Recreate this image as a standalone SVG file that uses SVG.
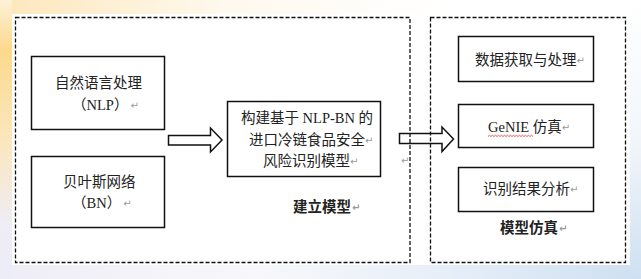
<svg xmlns="http://www.w3.org/2000/svg" width="641" height="279" viewBox="0 0 641 279">
<defs>
<linearGradient id="gLeft" x1="0" y1="0" x2="0" y2="1">
<stop offset="0" stop-color="#fdf1d8"/>
<stop offset="0.18" stop-color="#fcd98c"/>
<stop offset="0.5" stop-color="#fbe7bd"/>
<stop offset="0.8" stop-color="#efedf5"/>
<stop offset="1" stop-color="#ecedf8"/>
</linearGradient>
<linearGradient id="gTop" x1="0" y1="0" x2="1" y2="0">
<stop offset="0" stop-color="#fde7bb"/>
<stop offset="0.35" stop-color="#fef9ee"/>
<stop offset="0.7" stop-color="#ffffff"/>
<stop offset="1" stop-color="#ffffff"/>
</linearGradient>
<linearGradient id="gBottom" x1="0" y1="0" x2="1" y2="0">
<stop offset="0" stop-color="#eeedf7"/>
<stop offset="0.4" stop-color="#f8f8fb"/>
<stop offset="0.7" stop-color="#e6eef8"/>
<stop offset="1" stop-color="#cfe0f2"/>
</linearGradient>
<linearGradient id="gRight" x1="0" y1="0" x2="0" y2="1">
<stop offset="0" stop-color="#ffffff"/>
<stop offset="0.5" stop-color="#f2f6fb"/>
<stop offset="1" stop-color="#cfe0f2"/>
</linearGradient>
<style>
.t{font-family:"Liberation Serif","Noto Sans CJK SC",serif;font-size:14.5px;fill:#222}
.b{font-weight:bold}
.r{font-family:"DejaVu Sans",sans-serif;font-size:10px;fill:#999}
.box{fill:#fff;stroke:#111;stroke-width:1.5}
.dash{fill:none;stroke:#111;stroke-width:1.3;stroke-dasharray:4 2}
.arr{fill:none;stroke:#111;stroke-width:1.5;stroke-linejoin:miter}
</style>
</defs>
<rect x="0" y="0" width="641" height="279" fill="#ffffff"/>
<rect x="0" y="0" width="641" height="14" fill="url(#gTop)"/>
<rect x="0" y="265" width="641" height="14" fill="url(#gBottom)"/>
<rect x="630" y="0" width="11" height="279" fill="url(#gRight)"/>
<rect x="0" y="0" width="12" height="279" fill="url(#gLeft)"/>
<rect x="12" y="14" width="618" height="251" fill="#ffffff"/>

<g id="frame-build">
<rect class="dash" x="15.5" y="17.5" width="394.5" height="245"/>
<text class="t b" x="293" y="212">建立模型<tspan class="r" dx="1" dy="-1">↵</tspan></text>
</g>
<g id="frame-sim">
<rect class="dash" x="430.5" y="17.5" width="195" height="245"/>
<text class="t b" x="500" y="233">模型仿真<tspan class="r" dx="1" dy="-1">↵</tspan></text>
</g>

<g id="node-nlp">
<rect class="box" x="31.5" y="56.5" width="133" height="73"/>
<text class="t" x="55" y="88">自然语言处理</text>
<text class="t" x="72" y="110">（NLP）<tspan class="r" dx="2" dy="-1">↵</tspan></text>
</g>
<g id="node-bn">
<rect class="box" x="31.5" y="156.5" width="133" height="71"/>
<text class="t" x="63" y="187">贝叶斯网络</text>
<text class="t" x="72" y="208">（BN）<tspan class="r" dx="2" dy="-1">↵</tspan></text>
</g>
<g id="node-model">
<rect class="box" x="227.5" y="101.5" width="153" height="75"/>
<text class="t" x="241" y="123">构建基于 NLP-BN 的</text>
<text class="t" x="249" y="145">进口冷链食品安全<tspan class="r" dy="-1">↵</tspan></text>
<text class="t" x="263" y="166">风险识别模型<tspan class="r" dy="-1">↵</tspan></text>
</g>
<text class="r" x="401" y="164">↵</text>

<g id="node-data">
<rect class="box" x="458.5" y="36.5" width="135" height="45"/>
<text class="t" x="475" y="65">数据获取与处理<tspan class="r" dy="-1">↵</tspan></text>
</g>
<g id="node-genie">
<rect class="box" x="458.5" y="104.5" width="135" height="43"/>
<text class="t" x="488" y="132">GeNIE 仿真<tspan class="r" dy="-1">↵</tspan></text>
<path d="M488 136.5 l1.5 -1.2 l1.5 1.2 l1.5 -1.2 l1.5 1.2 l1.5 -1.2 l1.5 1.2 l1.5 -1.2 l1.5 1.2 l1.5 -1.2 l1.5 1.2 l1.5 -1.2 l1.5 1.2 l1.5 -1.2 l1.5 1.2 l1.5 -1.2 l1.5 1.2 l1.5 -1.2 l1.5 1.2 l1.5 -1.2 l1.5 1.2 l1.5 -1.2 l1.5 1.2 l1.5 -1.2 l1.5 1.2 l1.5 -1.2 l1.5 1.2 l1.5 -1.2 l1.5 1.2 l1.5 -1.2 l1.5 1.2" fill="none" stroke="#e03030" stroke-width="0.8"/>
</g>
<g id="node-result">
<rect class="box" x="458.5" y="167.5" width="135" height="44"/>
<text class="t" x="483" y="194">识别结果分析<tspan class="r" dy="-1">↵</tspan></text>
</g>

<g id="connectors">
<path class="arr" d="M168.5 135.5 H210.5 V128 L222 140 L210.5 152 V145 H168.5 Z"/>
<path class="arr" d="M399.5 133.5 H442 V127 L453.5 139 L442 151.5 V143.5 H399.5 Z"/>
</g>
</svg>
